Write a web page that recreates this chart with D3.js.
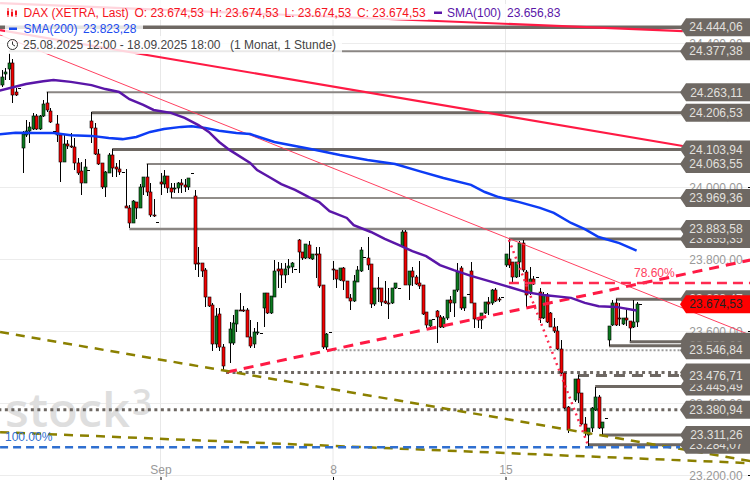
<!DOCTYPE html>
<html><head><meta charset="utf-8">
<script src="https://cdn.jsdelivr.net/npm/d3@7/dist/d3.min.js"></script>
<style>html,body{margin:0;padding:0;background:#fff;overflow:hidden}svg{display:block;font-family:"Liberation Sans",Arial,sans-serif}</style>
</head><body><div id="chart"></div>
<script>
// candle index: 0 = 1 Sep, 10 candles per trading day, first candle at index -47
const firstIndex = -47;
const highs = [24308,24325,24331,24372,24355,24275,24274,
 24156,24186,24181,24206,24203,24200,24242,24264,24219,24156,
 24200,24144,24144,24131,24150,24136,24081,24069,24078,24047,
 24208,24178,24106,24067,24044,24094,24106,24067,24075,24042,
 24050,23950,23964,23958,24008,24028,24064,24011,23967,23903,
 24039,24047,24031,24011,24011,24014,24022,24022,24025,24039,
 23992,23833,23789,23775,23694,23678,23664,23664,23564,null,
 23625,23644,23658,23706,23669,23664,23631,23608,23625,23594,
 23706,23706,23697,23797,23792,23789,23789,23800,23792,23772,
 23856,23819,23842,23850,23814,23833,23833,23728,23594,23597,
 23794,23769,23775,23778,23739,23703,23756,23781,23833,23806,
 23861,23786,23719,23750,23719,23739,23719,23719,23733,23719,
 23881,23881,23767,23778,23756,23794,23728,23653,23631,23633,
 23658,23644,23642,23686,23697,23714,23789,23781,23694,23703,
 23792,23678,23639,23650,23681,23694,23717,23719,23694,23694,
 23814,23856,23792,23792,23850,23853,23769,23778,23753,23750,
 23719,23708,23706,23653,23636,23614,23575,23483,23392,null,
 23467,23478,23428,23361,23331,23389,23444,23422,23347,23358,
 23614,23686,23689,23678,23636,23664,23628,23686,23681,23675];
const opens = [24283,24283,24314,24328,24344,24264,24274,
 24108,24144,24156,24161,24197,24161,24197,24233,24211,24156,
 24175,24144,24069,24119,24114,24111,24067,24044,24011,24047,
 24183,24164,24092,24067,24000,24039,24089,24056,24050,24042,
 23948,23942,23900,23958,23942,24000,24028,23986,23922,23903,
 24014,24008,24031,23997,23994,23997,24011,24006,24000,24039,
 23975,23789,23789,23769,23694,23672,23564,23647,23556,null,
 23567,23567,23619,23658,23658,23658,23583,23564,23594,23594,
 23664,23706,23650,23694,23772,23772,23756,23775,23778,23772,
 23853,23819,23803,23839,23800,23814,23814,23728,23556,23597,
 23772,23769,23742,23775,23739,23692,23683,23736,23767,23806,
 23803,23786,23675,23719,23719,23683,23678,23678,23719,23719,
 23836,23875,23728,23767,23750,23733,23728,23653,23614,23633,
 23656,23639,23611,23636,23686,23678,23714,23775,23664,23703,
 23767,23678,23636,23631,23650,23681,23678,23714,23689,23694,
 23783,23800,23792,23750,23792,23844,23764,23706,23744,23750,
 23708,23636,23700,23650,23611,23600,23550,23483,23389,null,
 23408,23467,23428,23342,23311,23331,23381,23417,23331,23358,
 23575,23617,23678,23636,23619,23636,23628,23611,23625,23675];
const lows = [24281,24278,24297,24297,24233,24253,24274,
 24039,24139,24122,24158,24158,24158,24194,24208,24178,24156,
 24125,24014,24069,24106,24108,24047,24033,23978,24011,24047,
 24122,24089,24061,23994,23972,24039,24028,24028,24033,24042,
 23942,23886,23900,23911,23942,23978,23975,23917,23917,23903,
 23978,23997,23983,23969,23983,23983,23983,23986,23992,24039,
 23769,23750,23750,23667,23667,23544,23553,23544,23489,null,
 23511,23561,23597,23656,23653,23583,23553,23553,23589,23594,
 23611,23647,23647,23694,23719,23719,23733,23756,23761,23772,
 23761,23797,23800,23800,23797,23747,23719,23550,23547,23597,
 23742,23719,23739,23714,23692,23658,23681,23736,23764,23806,
 23769,23664,23669,23681,23669,23675,23633,23675,23717,23719,
 23833,23728,23686,23725,23728,23717,23644,23608,23603,23633,
 23567,23608,23608,23631,23653,23639,23708,23658,23656,23703,
 23678,23608,23608,23606,23647,23644,23672,23681,23681,23694,
 23778,23775,23736,23747,23750,23764,23667,23700,23728,23750,
 23622,23633,23622,23611,23594,23547,23478,23383,23317,null,
 23403,23400,23339,23306,23281,23319,23378,23328,23311,23358,
 23558,23614,23614,23614,23617,23614,23572,23608,23611,23675];
const closes = [24306,24306,24319,24344,24256,24256,24274,
 24147,24156,24167,24197,24161,24197,24231,24214,24181,24156,
 24144,24069,24119,24114,24111,24067,24039,24011,24056,24047,
 24164,24092,24064,24000,24042,24089,24053,24050,24042,24042,
 23942,23900,23961,23942,24000,24028,23986,23922,23919,23903,
 24008,24031,23997,23986,23997,24011,24006,24000,24025,24039,
 23786,23786,23767,23694,23669,23564,23642,23556,23503,null,
 23606,23622,23658,23657,23656,23583,23558,23597,23597,23594,
 23706,23650,23697,23767,23767,23756,23772,23781,23789,23772,
 23819,23803,23842,23803,23814,23811,23725,23556,23592,23597,
 23769,23744,23775,23739,23692,23683,23739,23769,23825,23806,
 23783,23675,23719,23717,23681,23678,23675,23719,23733,23719,
 23875,23728,23767,23750,23731,23725,23647,23617,23631,23633,
 23639,23611,23636,23686,23678,23714,23764,23664,23694,23703,
 23678,23633,23631,23650,23681,23675,23714,23683,23686,23694,
 23814,23783,23750,23792,23844,23769,23700,23744,23731,23750,
 23636,23700,23625,23611,23600,23550,23483,23386,23325,null,
 23467,23428,23342,23319,23331,23386,23417,23331,23347,23358,
 23614,23678,23617,23633,23636,23631,23608,23625,23675,23674.53];

const sma100Index = [-47,-39,-34,-31,-26,-20,-16,-12,-9,-5,-2,3,7,11,14,17,20,26,28,32,35,39,43,46,49,54,56,61,65,69,73,77,81,85,90,94,98,106,111,119,123,127,132,138];
const sma100Values = [24267,24286,24294,24297,24292,24283,24272,24264,24244,24228,24214,24206,24192,24172,24153,24125,24103,24067,24047,24025,24008,23992,23972,23958,23933,23914,23894,23875,23856,23839,23822,23808,23783,23769,23753,23742,23731,23708,23700,23692,23678,23669,23667,23656.83];
const sma200Index = [-47,-42,-36,-31,-26,-20,-15,-11,-7,-3,1,6,9,13,17,22,26,33,39,45,52,60,68,75,82,90,94,98,104,110,114,119,123,127,133,138];
const sma200Values = [24146,24151,24150,24150,24144,24142,24136,24133,24139,24153,24161,24167,24169,24164,24156,24150,24147,24125,24114,24103,24089,24075,24064,24044,24025,24006,23986,23972,23958,23942,23928,23900,23883,23861,23844,23823.28];

const levelPrices = [24444.06,24377.38,24263.11,24206.53,24103.94,24063.55,23969.36,23855.35,23883.58,23688.47,23570.02,23559.00,23546.84,23445.49,23485.00,23476.71,23380.94,23284.07,23311.26];
const levelStarts = [-47,-44,-33,-20,-14,-4,3,101,-9,132,136,130,49,126,19,121,-47,124,128];
const yTicks = [24400,24200,24000,23800,23600,23400,23200];
const xTickIndex = [0,50,100];
const xTickLabels = ["Sep","8","15"];
const lastPrice = 23674.53;

const trendIndex0 = [-46.5,-46.5,-46.5,19.3,101,-46.5,-46.5,-46.5,101];
const trendPrice0 = [24436,24511,24422,23486,23733,23597,23319,23277,23853];
const trendIndex1 = [151.4,151.4,170.9,170.9,170.9,170.9,170.9,150.6,124];
const trendPrice1 = [24114,24433,23589,23797,23733,23239,23233,23277,23281];

const legendDAX = ["DAX (XETRA, Last)","O: 23.674,53","H: 23.674,53","L: 23.674,53","C: 23.674,53"];
const legendRange = ["25.08.2025 12:00 - 18.09.2025 18:00","(1 Monat, 1 Stunde)"];

const W=750,H=480;
const svg=d3.select("#chart").append("svg").attr("width",W).attr("height",H);
const x=d3.scaleLinear().domain([0,50]).range([160.5,333]);
const y=d3.scaleLinear().domain([23200,24000]).range([475,187]);
const loc=d3.formatLocale({decimal:",",thousands:".",grouping:[3],currency:["","€"]});
const fmt=loc.format(",.2f");
const GRAY="#6e6863";

// grid
svg.append("g").selectAll("line").data(yTicks).join("line")
 .attr("x1",0).attr("x2",W).attr("y1",d=>y(d)+.5).attr("y2",d=>y(d)+.5).attr("stroke","#ececec");
svg.append("g").selectAll("line").data(xTickIndex).join("line")
 .attr("x1",d=>x(d)).attr("x2",d=>x(d)).attr("y1",0).attr("y2",477).attr("stroke","#e8e8e8");

// watermark
svg.append("text").attr("x",5).attr("y",427).attr("textLength",125).attr("lengthAdjust","spacingAndGlyphs")
 .style("font-family","'Open Sans'").style("font-weight",600).style("font-size","47px").attr("fill","#dedede").text("stock");
svg.append("text").attr("x",132).attr("y",415).attr("textLength",20).attr("lengthAdjust","spacingAndGlyphs")
 .style("font-family","'Open Sans'").style("font-weight",600).style("font-size","36px").attr("fill","#dedede").text("3");

// axes
const yAxis=d3.axisRight(y).tickValues(yTicks).tickFormat(fmt).tickSize(0);
const gy=svg.append("g").attr("transform","translate(690,0)").call(yAxis);
gy.select(".domain").remove();
gy.selectAll("text").attr("x",52.7).attr("dy","0.37em").attr("text-anchor","end").attr("fill","#999").style("font-size","12px").style("font-family","'Liberation Sans'");
svg.append("g").selectAll("line").data(yTicks).join("line").attr("x1",748).attr("x2",750).attr("y1",d=>y(d)+.5).attr("y2",d=>y(d)+.5).attr("stroke","#000");
const xAxis=d3.axisBottom(x).tickValues(xTickIndex).tickFormat((d,i)=>xTickLabels[i]).tickSize(3);
const gx=svg.append("g").attr("transform","translate(0,477)").call(xAxis);
gx.select(".domain").remove();
gx.selectAll("line").attr("stroke","#000");
gx.selectAll("text").attr("y",-3).attr("dy",0).attr("fill","#999").style("font-size","12px").style("font-family","'Liberation Sans'");

// levels
const levelWidth=[3.5,2,2,3,3,2,1.5,3,2.5,3,3,3,2,3,3,3,3,3,3];
const levelColor=p=>[24377.38,24263.11,24063.55,23883.58].includes(p)?"#8a8683":GRAY;
const levelDash=p=>p===23546.84?"2,2":p===23485||p===23380.94?"3,3.5":p===23476.71?"11,7":null;
svg.append("g").selectAll("line").data(levelPrices).join("line")
 .attr("x1",(d,i)=>x(levelStarts[i])).attr("x2",684).attr("y1",d=>y(d)).attr("y2",d=>y(d))
 .attr("stroke",d=>(d===23546.84?"#9a9a9a":levelColor(d))).attr("stroke-width",(d,i)=>levelWidth[i])
 .attr("stroke-dasharray",levelDash);

// candles, snapped to the pixel grid so they stay crisp
const idx=d3.range(highs.length);
const cx=i=>Math.round(x(firstIndex+i));
const live=idx.filter(i=>highs[i]!==null);
const solid=live.filter(i=>highs[i]!==lows[i]);
const g=svg.append("g");
g.selectAll("line.w").data(solid).join("line").attr("class","w")
 .attr("x1",i=>cx(i)+.5).attr("x2",i=>cx(i)+.5).attr("y1",i=>Math.round(y(highs[i]))).attr("y2",i=>Math.round(y(lows[i]))).attr("stroke","#000").attr("stroke-width",1);
g.selectAll("rect").data(solid).join("rect")
 .attr("x",i=>cx(i)-1).attr("width",3)
 .attr("y",i=>Math.round(y(Math.max(opens[i],closes[i]))))
 .attr("height",i=>Math.max(1,Math.round(Math.abs(y(opens[i])-y(closes[i])))))
 .attr("fill",i=>closes[i]>=opens[i]?"#0c7a1f":"#f00000").attr("stroke","#000").attr("stroke-width",.6);
g.selectAll("line.d").data(live.filter(i=>highs[i]===lows[i])).join("line").attr("class","d")
 .attr("x1",i=>cx(i)-1).attr("x2",i=>cx(i)+2).attr("y1",i=>Math.round(y(highs[i]))+.5).attr("y2",i=>Math.round(y(highs[i]))+.5).attr("stroke","#000").attr("stroke-width",1);

// trend lines: thick red, thick red, thin red, dashed red, dashed red, olive, olive, blue, dotted red
const tColor=["#ff1a44","#ff1a44","#ff4060","#ff1a44","#ff2a50","#8b8000","#8b8000","#2f6fd0","#ff2a50"];
const tWidth=[2.2,2.2,1,3,2.5,2.5,2.5,2.5,2.5];
const tDash=[null,null,null,"10,7","10,6","9,7","9,7","8,5","2,4"];
svg.append("g").selectAll("line").data(trendIndex0).join("line")
 .attr("x1",d=>x(d)).attr("y1",(d,i)=>y(trendPrice0[i])).attr("x2",(d,i)=>x(trendIndex1[i])).attr("y2",(d,i)=>y(trendPrice1[i]))
 .attr("stroke",(d,i)=>tColor[i]).attr("stroke-width",(d,i)=>tWidth[i]).attr("stroke-dasharray",(d,i)=>tDash[i]);

// moving averages
const lineGen=(ix,vals)=>d3.line().x((d,i)=>x(ix[i])).y(d=>y(d)).curve(d3.curveLinear)(vals);
svg.append("path").attr("d",lineGen(sma200Index,sma200Values)).attr("fill","none").attr("stroke","#0d3cf5").attr("stroke-width",2.5);
svg.append("path").attr("d",lineGen(sma100Index,sma100Values)).attr("fill","none").attr("stroke","#5a16a8").attr("stroke-width",2.5);

// fib labels
svg.append("text").attr("x",634).attr("y",277).attr("fill","#ff4060").style("font-size","12px").text("78.60%");
svg.append("text").attr("x",5).attr("y",441).attr("fill","#2f6fd0").style("font-size","12px").text("100.00%");

// tags
const tagPath=d=>{const v=y(d);return d3.line()([[680,v],[686,v-9],[750,v-9],[750,v+9],[686,v+9]])+"Z";};
const tags=svg.append("g").selectAll("g").data(levelPrices).join("g");
tags.append("path").attr("d",tagPath).attr("fill",GRAY);
tags.append("text").attr("x",742.7).attr("y",d=>y(d)).attr("dy","0.36em").attr("text-anchor","end").attr("fill","#e2e0de").style("font-size","12px").text(fmt);
const red=svg.append("g");
red.append("path").attr("d",tagPath(lastPrice)).attr("fill","#ff0000");
red.append("text").attr("x",742.7).attr("y",y(lastPrice)).attr("dy","0.36em").attr("text-anchor","end").attr("fill","#222").style("font-size","12px").text(fmt(lastPrice));

// legend backgrounds
[[0,0,428,20],[440,4,122,16],[5,20,138,16],[0,36,342,18]].forEach(r=>
 svg.append("rect").attr("x",r[0]).attr("y",r[1]).attr("width",r[2]).attr("height",r[3]).attr("fill","#fff").attr("opacity",.82));
const T=(tx,ty,s,c)=>svg.append("text").attr("x",tx).attr("y",ty).attr("fill",c).style("font-size","12px").text(s);
const RED="#f5141e",PUR="#5a16a8",BLU="#1c4df0";
[23.5,134.5,210,284.5,357].forEach((px,i)=>T(px,17,legendDAX[i],RED));
T(447,17,"SMA(100)",PUR);T(507,17,"23.656,83",PUR);
T(23.5,33,"SMA(200)",BLU);T(83,33,"23.823,28",BLU);
T(23,49,legendRange[0],"#444");T(230,49,legendRange[1],"#444");
// icons
svg.append("rect").attr("x",434).attr("y",11.5).attr("width",8).attr("height",2.5).attr("fill",PUR);
svg.append("rect").attr("x",9).attr("y",27.5).attr("width",8).attr("height",2.5).attr("fill",BLU);
[8,12,16].forEach((px,i)=>{
 svg.append("line").attr("x1",px).attr("x2",px).attr("y1",8+i).attr("y2",17).attr("stroke",RED);
 svg.append("rect").attr("x",px-1).attr("y",11+(i%2)).attr("width",2).attr("height",4).attr("fill",RED);
});
svg.append("circle").attr("cx",12.5).attr("cy",44.5).attr("r",5).attr("fill","none").attr("stroke","#333").attr("stroke-width",1);
svg.append("path").attr("d","M12.5 41.5V44.5L15 46").attr("fill","none").attr("stroke","#333");
</script></body></html>
